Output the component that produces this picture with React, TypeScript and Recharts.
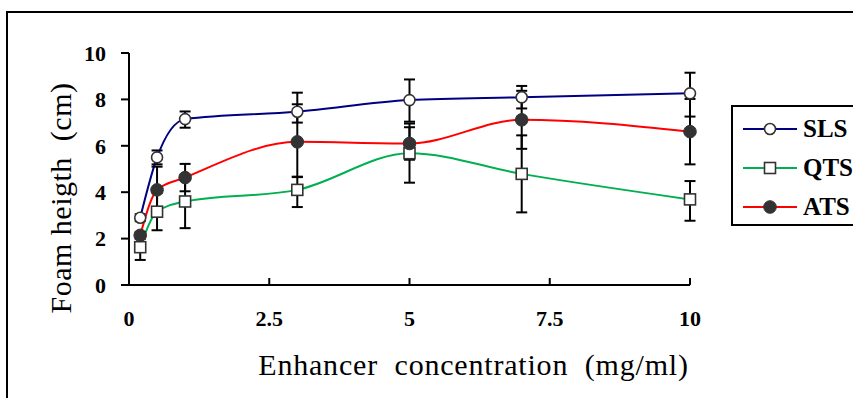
import React from 'react';
import { LineChart, Line, XAxis, YAxis, ErrorBar, Legend, Label } from 'recharts';

// ---- data ----
const concentrations = [0.2, 0.5, 1, 3, 5, 7, 10];
const slsHeight = [2.9, 5.5, 7.15, 7.47, 7.97, 8.09, 8.26];
const qtsHeight = [1.63, 3.16, 3.6, 4.1, 5.68, 4.79, 3.69];
const atsHeight = [2.14, 4.1, 4.63, 6.17, 6.1, 7.12, 6.61];
// [minus, plus]
const slsError = [[0.15, 0.15], [0.3, 0.3], [0.37, 0.33], [0.47, 0.82], [0.93, 0.89], [0.48, 0.49], [1.0, 0.89]];
const qtsError = [[0.55, 0.55], [0.8, 0.8], [1.15, 1.15], [0.74, 0.55], [1.27, 1.28], [1.66, 1.66], [0.92, 0.79]];
const atsError = [[0.15, 0.15], [1.0, 1.0], [0.59, 0.59], [1.5, 1.62], [0.7, 0.7], [1.25, 1.25], [1.41, 1.41]];
const xTicks = [0, 2.5, 5, 7.5, 10];
const yTicks = [0, 2, 4, 6, 8, 10];
const seriesNames = ['SLS', 'QTS', 'ATS'];
const seriesColors = ['#000080', '#00B050', '#FF0000'];
const seriesMarkers = ['openCircle', 'openSquare', 'filledCircle'];
const xTitle = 'Enhancer  concentration  (mg/ml)';
const yTitle = 'Foam heigth  (cm)';

const data = concentrations.map((c, i) => ({
  x: c,
  SLS: slsHeight[i],
  SLSerr: slsError[i],
  QTS: qtsHeight[i],
  QTSerr: qtsError[i],
  ATS: atsHeight[i],
  ATSerr: atsError[i],
}));

const FONT = '"Liberation Serif", "Times New Roman", serif';
const MARK = '#333333';

const drawMarker = (kind: string, cx: number, cy: number, key?: any) => {
  if (kind === 'openCircle')
    return <circle key={key} cx={cx} cy={cy} r={5.5} fill="#fff" stroke={MARK} strokeWidth={1.6} />;
  if (kind === 'openSquare')
    return <rect key={key} x={cx - 5.5} y={cy - 5.5} width={11} height={11} fill="#fff" stroke={MARK} strokeWidth={1.6} />;
  return <circle key={key} cx={cx} cy={cy} r={6.3} fill={MARK} stroke={MARK} strokeWidth={1} />;
};

const makeDot = (kind: string) => (props: any) => {
  const { cx, cy, key, index } = props;
  if (cx == null || cy == null) return <g key={key ?? index} />;
  return drawMarker(kind, cx, cy, key ?? `${kind}-${index}`);
};

const renderLegend = (props: any) => {
  const payload = [...(props.payload || [])].sort(
    (a: any, b: any) => seriesNames.indexOf(a.value) - seriesNames.indexOf(b.value)
  );
  return (
    <div
      style={{
        width: 140,
        height: 121,
        boxSizing: 'border-box',
        border: '2px solid #000',
        background: '#fff',
        paddingTop: 2,
      }}
    >
      {payload.map((entry: any, i: number) => {
        const idx = seriesNames.indexOf(entry.value);
        return (
          <div key={i} style={{ display: 'flex', alignItems: 'center', height: 39 }}>
            <svg width={70} height={16} style={{ display: 'block' }}>
              <line x1={10} y1={8} x2={64} y2={8} stroke={entry.color} strokeWidth={2} />
              {drawMarker(seriesMarkers[idx], 37, 8)}
            </svg>
            <span style={{ fontFamily: FONT, fontWeight: 'bold', fontSize: 25, color: '#000', lineHeight: '25px' }}>
              {entry.value}
            </span>
          </div>
        );
      })}
    </div>
  );
};

const tickStyle = { fontFamily: FONT, fontWeight: 'bold', fontSize: 22, fill: '#000' };

export default function App() {
  return (
    <div style={{ position: 'absolute', left: 0, top: 0, width: 853, height: 398, overflow: 'hidden', background: '#fff' }}>
      <div
        style={{
          position: 'absolute',
          left: 6,
          top: 11,
          width: 1000,
          height: 1000,
          border: '2px solid #000',
          boxSizing: 'border-box',
        }}
      />
      <div style={{ position: 'absolute', left: 0, top: 0 }}>
        <LineChart width={853} height={398} data={data} margin={{ top: 53, right: 163, bottom: 53, left: 0 }}>
          <XAxis
            dataKey="x"
            type="number"
            domain={[0, 10]}
            ticks={xTicks}
            interval={0}
            height={60}
            tickSize={-7}
            tickMargin={32}
            axisLine={{ stroke: '#000', strokeWidth: 2 }}
            tickLine={{ stroke: '#000', strokeWidth: 2 }}
            tick={tickStyle}
          >
            <Label
              content={(p: any) => {
                const vb = p.viewBox || {};
                return (
                  <text
                    x={vb.x + vb.width / 2 + 64}
                    y={375}
                    textAnchor="middle"
                    style={{ fontFamily: FONT, fontSize: 30, letterSpacing: 0.8, fill: '#000', whiteSpace: 'pre' }}
                  >
                    {xTitle}
                  </text>
                );
              }}
            />
          </XAxis>
          <YAxis
            type="number"
            domain={[0, 10]}
            ticks={yTicks}
            interval={0}
            width={129}
            tickSize={8}
            tickMargin={15}
            axisLine={{ stroke: '#000', strokeWidth: 2 }}
            tickLine={{ stroke: '#000', strokeWidth: 2 }}
            tick={tickStyle}
          >
            <Label
              content={(p: any) => {
                const vb = p.viewBox || {};
                const cx = 60;
                const cy = vb.y + vb.height / 2 + 29;
                return (
                  <text
                    x={cx}
                    y={cy}
                    transform={`rotate(-90 ${cx} ${cy})`}
                    textAnchor="middle"
                    dominantBaseline="central"
                    style={{ fontFamily: FONT, fontSize: 30, letterSpacing: 0.5, fill: '#000', whiteSpace: 'pre' }}
                  >
                    {yTitle}
                  </text>
                );
              }}
            />
          </YAxis>
          <Legend
            layout="vertical"
            align="center"
            verticalAlign="middle"
            content={renderLegend}
            wrapperStyle={{ left: 731, top: 105, width: 140, height: 121 }}
          />
          {seriesNames.map((name, i) => (
            <Line
              key={name}
              name={name}
              dataKey={name}
              type="monotone"
              stroke={seriesColors[i]}
              strokeWidth={2}
              dot={makeDot(seriesMarkers[i])}
              activeDot={false}
              isAnimationActive={false}
            >
              <ErrorBar dataKey={`${name}err`} direction="y" width={5.5} stroke="#000" strokeWidth={2} />
            </Line>
          ))}
        </LineChart>
      </div>
    </div>
  );
}
